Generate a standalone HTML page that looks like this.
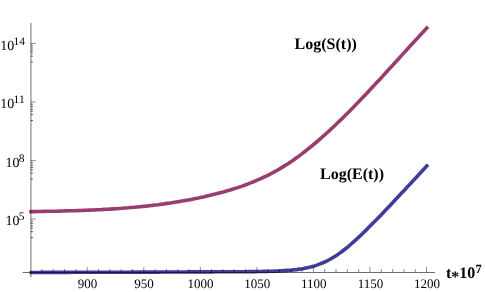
<!DOCTYPE html>
<html><head><meta charset="utf-8"><style>
html,body{margin:0;padding:0;background:#fff}
svg{display:block}
.t{filter:grayscale(1)}
text{font-family:"Liberation Serif",serif;fill:#000;text-rendering:geometricPrecision}
</style></head><body>
<svg width="485" height="292" viewBox="0 0 485 292">
<rect width="485" height="292" fill="#fff"/>
<path d="M29.6,272.5 L32.6,272.5 L35.6,272.5 L38.6,272.5 L41.6,272.4 L44.6,272.4 L47.6,272.4 L50.6,272.4 L53.6,272.4 L56.6,272.4 L59.6,272.4 L62.6,272.4 L65.6,272.4 L68.6,272.4 L71.6,272.3 L74.6,272.3 L77.6,272.3 L80.6,272.3 L83.6,272.3 L86.6,272.3 L89.6,272.3 L92.6,272.3 L95.6,272.3 L98.6,272.3 L101.6,272.2 L104.6,272.2 L107.6,272.2 L110.6,272.2 L113.6,272.2 L116.6,272.2 L119.6,272.2 L122.6,272.2 L125.6,272.2 L128.6,272.2 L131.6,272.1 L134.6,272.1 L137.6,272.1 L140.6,272.1 L143.6,272.1 L146.6,272.1 L149.6,272.1 L152.6,272.1 L155.6,272.1 L158.6,272.1 L161.6,272.0 L164.6,272.0 L167.6,272.0 L170.6,272.0 L173.6,272.0 L176.6,272.0 L179.6,272.0 L182.6,272.0 L185.6,272.0 L188.6,271.9 L191.6,271.9 L194.6,271.9 L197.6,271.9 L200.6,271.9 L203.6,271.9 L206.6,271.9 L209.6,271.9 L212.6,271.9 L215.6,271.8 L218.6,271.8 L221.6,271.8 L224.6,271.8 L227.6,271.8 L230.6,271.8 L233.6,271.8 L236.6,271.7 L239.6,271.7 L242.6,271.7 L245.6,271.7 L248.6,271.6 L251.6,271.6 L254.6,271.6 L257.6,271.5 L260.6,271.5 L263.6,271.4 L266.6,271.4 L269.6,271.3 L272.6,271.2 L275.6,271.1 L278.6,271.0 L281.6,270.8 L284.6,270.6 L287.6,270.4 L290.6,270.2 L293.6,269.9 L296.6,269.6 L299.6,269.1 L302.6,268.7 L305.6,268.1 L308.6,267.5 L311.6,266.7 L314.6,265.9 L317.6,264.9 L320.6,263.7 L323.6,262.5 L326.6,261.1 L329.6,259.5 L332.6,257.8 L335.6,255.9 L338.6,253.9 L341.6,251.8 L344.6,249.5 L347.6,247.1 L350.6,244.5 L353.6,241.9 L356.6,239.2 L359.6,236.4 L362.6,233.5 L365.6,230.6 L368.6,227.6 L371.6,224.6 L374.6,221.6 L377.6,218.5 L380.6,215.4 L383.6,212.2 L386.6,209.1 L389.6,205.9 L392.6,202.7 L395.6,199.5 L398.6,196.3 L401.6,193.1 L404.6,189.9 L407.6,186.6 L410.6,183.4 L413.6,180.2 L416.6,177.0 L419.6,173.7 L422.6,170.5 L425.6,167.2 L428.0,164.6" fill="none" stroke="#3f3d99" stroke-width="3.6" stroke-linejoin="round"/>
<path d="M29.2,211.7 L32.2,211.6 L35.2,211.6 L38.2,211.5 L41.2,211.5 L44.2,211.4 L47.2,211.3 L50.2,211.3 L53.2,211.2 L56.2,211.2 L59.2,211.1 L62.2,211.0 L65.2,210.9 L68.2,210.8 L71.2,210.8 L74.2,210.7 L77.2,210.6 L80.2,210.5 L83.2,210.4 L86.2,210.3 L89.2,210.1 L92.2,210.0 L95.2,209.9 L98.2,209.7 L101.2,209.6 L104.2,209.4 L107.2,209.3 L110.2,209.1 L113.2,208.9 L116.2,208.7 L119.2,208.5 L122.2,208.3 L125.2,208.0 L128.2,207.8 L131.2,207.5 L134.2,207.3 L137.2,207.0 L140.2,206.7 L143.2,206.4 L146.2,206.1 L149.2,205.7 L152.2,205.4 L155.2,205.0 L158.2,204.7 L161.2,204.3 L164.2,203.9 L167.2,203.4 L170.2,203.0 L173.2,202.5 L176.2,202.0 L179.2,201.6 L182.2,201.0 L185.2,200.5 L188.2,200.0 L191.2,199.4 L194.2,198.8 L197.2,198.2 L200.2,197.5 L203.2,196.9 L206.2,196.2 L209.2,195.5 L212.2,194.8 L215.2,194.1 L218.2,193.3 L221.2,192.5 L224.2,191.7 L227.2,190.8 L230.2,190.0 L233.2,189.0 L236.2,188.1 L239.2,187.1 L242.2,186.1 L245.2,185.0 L248.2,183.9 L251.2,182.7 L254.2,181.5 L257.2,180.2 L260.2,178.9 L263.2,177.5 L266.2,176.1 L269.2,174.6 L272.2,173.0 L275.2,171.4 L278.2,169.7 L281.2,167.9 L284.2,166.1 L287.2,164.2 L290.2,162.2 L293.2,160.2 L296.2,158.0 L299.2,155.9 L302.2,153.6 L305.2,151.3 L308.2,148.9 L311.2,146.5 L314.2,144.0 L317.2,141.5 L320.2,138.9 L323.2,136.2 L326.2,133.5 L329.2,130.8 L332.2,128.0 L335.2,125.2 L338.2,122.3 L341.2,119.4 L344.2,116.4 L347.2,113.5 L350.2,110.4 L353.2,107.4 L356.2,104.3 L359.2,101.2 L362.2,98.1 L365.2,94.9 L368.2,91.7 L371.2,88.5 L374.2,85.3 L377.2,82.1 L380.2,78.9 L383.2,75.6 L386.2,72.3 L389.2,69.0 L392.2,65.8 L395.2,62.5 L398.2,59.2 L401.2,55.9 L404.2,52.6 L407.2,49.3 L410.2,46.0 L413.2,42.7 L416.2,39.5 L419.2,36.2 L422.2,33.0 L425.2,29.7 L428.0,26.7" fill="none" stroke="#993d71" stroke-width="3.6" stroke-linejoin="round"/>
<line x1="30.9" x2="30.9" y1="23" y2="277.2" stroke="#000" stroke-opacity="0.43" stroke-width="1.3"/>
<line x1="22.7" x2="435" y1="272.5" y2="272.5" stroke="#000" stroke-opacity="0.57" stroke-width="1"/>
<g stroke="#000" stroke-opacity="0.5" stroke-width="0.9" fill="none">
<line x1="42.0" x2="42.0" y1="272" y2="269.0"/>
<line x1="53.3" x2="53.3" y1="272" y2="269.0"/>
<line x1="64.6" x2="64.6" y1="272" y2="269.0"/>
<line x1="75.9" x2="75.9" y1="272" y2="269.0"/>
<line x1="87.2" x2="87.2" y1="272" y2="267.0"/>
<line x1="98.5" x2="98.5" y1="272" y2="269.0"/>
<line x1="109.8" x2="109.8" y1="272" y2="269.0"/>
<line x1="121.1" x2="121.1" y1="272" y2="269.0"/>
<line x1="132.4" x2="132.4" y1="272" y2="269.0"/>
<line x1="143.8" x2="143.8" y1="272" y2="267.0"/>
<line x1="155.1" x2="155.1" y1="272" y2="269.0"/>
<line x1="166.4" x2="166.4" y1="272" y2="269.0"/>
<line x1="177.7" x2="177.7" y1="272" y2="269.0"/>
<line x1="189.0" x2="189.0" y1="272" y2="269.0"/>
<line x1="200.3" x2="200.3" y1="272" y2="267.0"/>
<line x1="211.6" x2="211.6" y1="272" y2="269.0"/>
<line x1="222.9" x2="222.9" y1="272" y2="269.0"/>
<line x1="234.2" x2="234.2" y1="272" y2="269.0"/>
<line x1="245.5" x2="245.5" y1="272" y2="269.0"/>
<line x1="256.9" x2="256.9" y1="272" y2="267.0"/>
<line x1="268.2" x2="268.2" y1="272" y2="269.0"/>
<line x1="279.5" x2="279.5" y1="272" y2="269.0"/>
<line x1="290.8" x2="290.8" y1="272" y2="269.0"/>
<line x1="302.1" x2="302.1" y1="272" y2="269.0"/>
<line x1="313.4" x2="313.4" y1="272" y2="267.0"/>
<line x1="324.7" x2="324.7" y1="272" y2="269.0"/>
<line x1="336.0" x2="336.0" y1="272" y2="269.0"/>
<line x1="347.3" x2="347.3" y1="272" y2="269.0"/>
<line x1="358.6" x2="358.6" y1="272" y2="269.0"/>
<line x1="369.9" x2="369.9" y1="272" y2="267.0"/>
<line x1="381.3" x2="381.3" y1="272" y2="269.0"/>
<line x1="392.6" x2="392.6" y1="272" y2="269.0"/>
<line x1="403.9" x2="403.9" y1="272" y2="269.0"/>
<line x1="415.2" x2="415.2" y1="272" y2="269.0"/>
<line x1="426.5" x2="426.5" y1="272" y2="267.0"/>
<line x1="30.7" x2="35.8" y1="43.5" y2="43.5"/>
<line x1="30.9" x2="32.9" y1="45.7" y2="45.7" stroke-opacity="0.75"/>
<line x1="30.9" x2="32.9" y1="48.0" y2="48.0" stroke-opacity="0.75"/>
<line x1="30.9" x2="32.9" y1="50.4" y2="50.4" stroke-opacity="0.75"/>
<line x1="30.9" x2="32.9" y1="52.7" y2="52.7" stroke-opacity="0.75"/>
<line x1="30.9" x2="32.9" y1="56.1" y2="56.1" stroke-opacity="0.75"/>
<line x1="30.9" x2="32.9" y1="62.0" y2="62.0" stroke-opacity="0.75"/>
<line x1="30.7" x2="35.8" y1="102.0" y2="102.0"/>
<line x1="30.9" x2="32.9" y1="104.2" y2="104.2" stroke-opacity="0.75"/>
<line x1="30.9" x2="32.9" y1="106.5" y2="106.5" stroke-opacity="0.75"/>
<line x1="30.9" x2="32.9" y1="109.0" y2="109.0" stroke-opacity="0.75"/>
<line x1="30.9" x2="32.9" y1="111.2" y2="111.2" stroke-opacity="0.75"/>
<line x1="30.9" x2="32.9" y1="114.6" y2="114.6" stroke-opacity="0.75"/>
<line x1="30.9" x2="32.9" y1="120.5" y2="120.5" stroke-opacity="0.75"/>
<line x1="30.7" x2="35.8" y1="160.6" y2="160.6"/>
<line x1="30.9" x2="32.9" y1="162.8" y2="162.8" stroke-opacity="0.75"/>
<line x1="30.9" x2="32.9" y1="165.1" y2="165.1" stroke-opacity="0.75"/>
<line x1="30.9" x2="32.9" y1="167.5" y2="167.5" stroke-opacity="0.75"/>
<line x1="30.9" x2="32.9" y1="169.8" y2="169.8" stroke-opacity="0.75"/>
<line x1="30.9" x2="32.9" y1="173.2" y2="173.2" stroke-opacity="0.75"/>
<line x1="30.9" x2="32.9" y1="179.1" y2="179.1" stroke-opacity="0.75"/>
<line x1="30.7" x2="35.8" y1="219.1" y2="219.1"/>
<line x1="30.9" x2="32.9" y1="221.3" y2="221.3" stroke-opacity="0.75"/>
<line x1="30.9" x2="32.9" y1="223.6" y2="223.6" stroke-opacity="0.75"/>
<line x1="30.9" x2="32.9" y1="226.0" y2="226.0" stroke-opacity="0.75"/>
<line x1="30.9" x2="32.9" y1="228.3" y2="228.3" stroke-opacity="0.75"/>
<line x1="30.9" x2="32.9" y1="231.7" y2="231.7" stroke-opacity="0.75"/>
<line x1="30.9" x2="32.9" y1="237.6" y2="237.6" stroke-opacity="0.75"/>
</g>
<g font-size="14" class="t">
<text x="0.2" y="49.7">10<tspan font-size="11.5" dy="-5" dx="-0.6">14</tspan></text>
<text x="0.2" y="108">10<tspan font-size="11.5" dy="-5" dx="-0.6">11</tspan></text>
<text x="5.4" y="166.6">10<tspan font-size="11.5" dy="-5" dx="-0.6">8</tspan></text>
<text x="5.4" y="225">10<tspan font-size="11.5" dy="-5" dx="-0.6">5</tspan></text>
</g>
<g font-size="13" text-anchor="middle" class="t">
<text x="87.4" y="288">900</text>
<text x="144" y="288">950</text>
<text x="200.6" y="288">1000</text>
<text x="257.2" y="288">1050</text>
<text x="313.8" y="288">1100</text>
<text x="370.4" y="288">1150</text>
<text x="427" y="288">1200</text>
</g>
<g font-size="16" font-weight="bold" class="t">
<text x="294.6" y="49">Log(S(t))</text>
<text x="320" y="178.6">Log(E(t))</text>
<text x="446" y="278.3">t<tspan dy="4">*</tspan><tspan dy="-4">10</tspan><tspan font-size="12.5" dy="-5.2" dx="0.2">7</tspan></text>
</g>
</svg>
</body></html>
